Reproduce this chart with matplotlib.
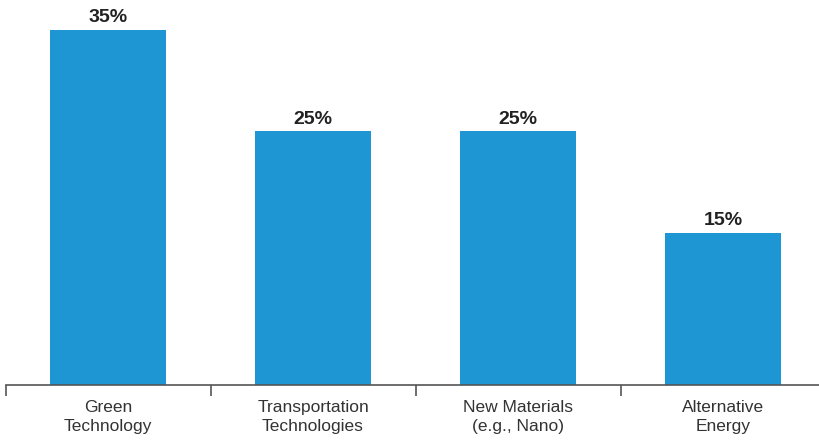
import matplotlib.pyplot as plt
import numpy as np

categories = ["Green\nTechnology", "Transportation\nTechnologies", "New Materials\n(e.g., Nano)", "Alternative\nEnergy"]
values = [35, 25, 25, 15]
value_labels = ["35%", "25%", "25%", "15%"]

plt.rcParams['font.family'] = ['Liberation Sans', 'DejaVu Sans']

fig = plt.figure(figsize=(8.19, 4.4), dpi=100)
# axes spans slightly past the right edge so the last category is cut like the original layout
ax = fig.add_axes([5.5 / 819, 55 / 440, 820 / 819, 385 / 440])

x = np.arange(len(categories))
bars = ax.bar(x, values, width=0.57, color="#1e96d4")

for xi, v, lab in zip(x, values, value_labels):
    ax.text(xi, v + 0.35, lab, ha="center", va="bottom", fontsize=14,
            fontweight="bold", color="#222222")

ax.set_xlim(-0.5, 3.5)
ax.set_ylim(0, 35 * 385 / 355)

for s in ["top", "right", "left"]:
    ax.spines[s].set_visible(False)
ax.spines["bottom"].set_color("#555555")
ax.spines["bottom"].set_linewidth(1.2)
ax.set_yticks([])

ax.set_xticks(x)
ax.set_xticklabels(categories, fontsize=12.5, color="#333333", linespacing=1.3)
ax.tick_params(axis="x", which="major", length=0, pad=11)
ax.set_xticks(np.arange(-0.5, 4, 1.0), minor=True)
ax.tick_params(axis="x", which="minor", length=8, width=1.2, color="#555555", direction="out")

fig.savefig("out.png", dpi=100)
